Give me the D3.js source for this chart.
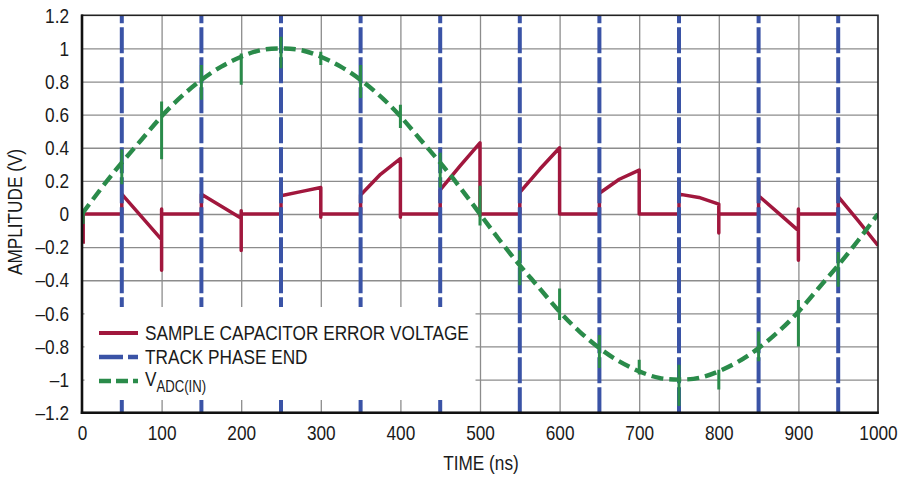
<!DOCTYPE html>
<html><head><meta charset="utf-8">
<script src="https://cdn.jsdelivr.net/npm/d3@7"></script>
<style>
html,body{margin:0;padding:0;background:#fff;}
svg{display:block;}
text{font-family:"Liberation Sans Narrow","Arial Narrow","Liberation Sans",Arial,sans-serif;fill:#1a1a1a;}
</style></head>
<body>
<svg id="chart" width="900" height="481"></svg>
<script>
// ---- data ----
const xTicks = [0,100,200,300,400,500,600,700,800,900,1000];
const yTicks = [1.2,1,0.8,0.6,0.4,0.2,0,-0.2,-0.4,-0.6,-0.8,-1,-1.2];
const yTickLabels = ["1.2","1","0.8","0.6","0.4","0.2","0","\u20130.2","\u20130.4","\u20130.6","\u20130.8","\u20131","\u20131.2"];

// track phase end markers (ns)
const trackPhaseEnd = [50,150,250,350,450,550,650,750,850,950];

// sample capacitor error voltage (ns, V)
const errTime  = [1.5,1.5,50,50,100,100,100,100,150,150,200,200,200,200,250,250,275,300,300,300,350,350,375,400,400,400,450,450,475,500,500,500,550,550,550,575,600,600,650,650,650,675,700,700,750,750,750,775,800,800,800,850,850,850,875,900,900,900,900,950,950,950,975,1000];
const errValue = [-0.18,0,0,0.12,-0.155,-0.34,0.03,0,0,0.12,-0.025,-0.22,0.02,0,0,0.11,0.135,0.16,-0.02,0,0,0.115,0.24,0.335,-0.02,0,0,0.145,0.29,0.43,-0.01,0,0,0.2,0.13,0.27,0.40,0,0,0.2,0.125,0.21,0.265,0,0,0.19,0.12,0.10,0.06,-0.115,0,0,0.19,0.11,0.005,-0.1,-0.28,0.03,0,0,0.18,0.105,-0.04,-0.19];

// V_ADC(IN) (ns, V)
const vinTime  = [0,25,50,75,100,125,150,175,200,225,250,275,300,325,350,375,400,425,450,475,500,525,550,575,600,625,650,675,700,725,750,775,800,825,850,875,900,925,950,975,1000];
const vinValue = [0,0.16,0.31,0.45,0.59,0.71,0.81,0.89,0.95,0.99,1.00,0.99,0.95,0.89,0.81,0.71,0.59,0.45,0.31,0.16,0,-0.16,-0.31,-0.45,-0.59,-0.71,-0.81,-0.89,-0.95,-0.99,-1.00,-0.99,-0.95,-0.89,-0.81,-0.71,-0.59,-0.45,-0.31,-0.16,0];

// V_ADC(IN) glitches at each switching instant (ns, low V, high V)
const glitchTime = [1.5,50,100,150,200,250,300,350,400,450,500,550,600,650,700,750,800,850,900,950];
const glitchLow  = [-0.06,0.18,0.33,0.69,0.78,0.88,0.90,0.70,0.52,0.16,-0.07,-0.43,-0.64,-0.93,-0.97,-1.16,-1.06,-0.89,-0.80,-0.44];
const glitchHigh = [0.03,0.39,0.68,0.90,0.97,1.07,0.98,0.90,0.66,0.37,0.17,-0.22,-0.45,-0.73,-0.88,-0.91,-0.94,-0.71,-0.52,-0.23];

const legendLabels = ["SAMPLE CAPACITOR ERROR VOLTAGE","TRACK PHASE END","V"];

// ---- layout ----
const M = {left:82, right:878, top:15.3, bottom:412.7};
const RED="#a1173d", BLUE="#3a53a6", GREEN="#2a8b4a";
const K = 0.82; // condensed face emulation

function narrow(sel){
  sel.each(function(){
    const t=d3.select(this);
    const x=+t.attr("x")||0, y=+t.attr("y")||0;
    t.attr("transform",`translate(${x},${y}) scale(${K},1) translate(${-x},${-y})`);
  });
}

const svg = d3.select("#chart");
const x = d3.scaleLinear().domain([0,1000]).range([M.left,M.right]);
const y = d3.scaleLinear().domain([-1.2,1.2]).range([M.bottom,M.top]);
const H = M.bottom-M.top, W = M.right-M.left;

// gridlines
svg.append("g").attr("transform",`translate(0,${M.bottom})`)
  .call(d3.axisBottom(x).tickValues(xTicks.slice(1,-1)).tickSize(-H).tickFormat(""))
  .call(g=>{g.select(".domain").remove();g.selectAll("line").attr("stroke","#8c8c8c").attr("stroke-width",1.3);});
svg.append("g").attr("transform",`translate(${M.left},0)`)
  .call(d3.axisLeft(y).tickValues(yTicks.slice(1,-1)).tickSize(-W).tickFormat(""))
  .call(g=>{g.select(".domain").remove();g.selectAll("line").attr("stroke","#8c8c8c").attr("stroke-width",1.3);});

svg.append("clipPath").attr("id","plot").append("rect")
  .attr("x",M.left).attr("y",M.top).attr("width",W).attr("height",H);

// error voltage
const errPts = errTime.map((t,i)=>[t,errValue[i]]);
svg.append("path").attr("clip-path","url(#plot)")
  .attr("d", d3.line().x(d=>x(d[0])).y(d=>y(d[1]))(errPts))
  .attr("fill","none").attr("stroke",RED).attr("stroke-width",3.5).attr("stroke-linejoin","round");

// track phase end
svg.append("g").selectAll("line").data(trackPhaseEnd).join("line")
  .attr("x1",d=>x(d)).attr("x2",d=>x(d)).attr("y1",y(1.2)).attr("y2",y(-1.2))
  .attr("stroke",BLUE).attr("stroke-width",4).attr("stroke-dasharray","26,4").attr("stroke-dashoffset",18);

// V_ADC(IN)
const vinPts = vinTime.map((t,i)=>[t,vinValue[i]]);
svg.append("path").attr("clip-path","url(#plot)")
  .attr("d", d3.line().x(d=>x(d[0])).y(d=>y(d[1])).curve(d3.curveNatural)(vinPts))
  .attr("fill","none").attr("stroke",GREEN).attr("stroke-width",4.4).attr("stroke-dasharray","12,6");
svg.append("g").attr("clip-path","url(#plot)").selectAll("line").data(glitchTime).join("line")
  .attr("x1",d=>x(d)).attr("x2",d=>x(d))
  .attr("y1",(d,i)=>y(glitchLow[i])).attr("y2",(d,i)=>y(glitchHigh[i]))
  .attr("stroke",GREEN).attr("stroke-width",3);

// legend
const lg = svg.append("g");
lg.append("rect").attr("x",84.5).attr("y",307).attr("width",391).attr("height",93).attr("fill","#fff");
const legY = [333,357,381];
lg.append("line").attr("x1",99).attr("x2",138).attr("y1",legY[0]).attr("y2",legY[0]).attr("stroke",RED).attr("stroke-width",4);
lg.append("line").attr("x1",99).attr("x2",138).attr("y1",legY[1]).attr("y2",legY[1]).attr("stroke",BLUE).attr("stroke-width",4.5).attr("stroke-dasharray","24,5");
lg.append("line").attr("x1",99).attr("x2",138).attr("y1",legY[2]).attr("y2",legY[2]).attr("stroke",GREEN).attr("stroke-width",4.5).attr("stroke-dasharray","12,5");
lg.append("text").attr("x",145).attr("y",legY[0]+7.5).attr("font-size",21).text(legendLabels[0]).call(narrow);
lg.append("text").attr("x",145).attr("y",legY[1]+7.5).attr("font-size",21).text(legendLabels[1]).call(narrow);
const vt = lg.append("text").attr("x",145).attr("y",legY[2]+5).attr("font-size",21);
vt.append("tspan").text(legendLabels[2]);
vt.append("tspan").attr("font-size",16).attr("dy",6).text("ADC(IN)");
vt.call(narrow);

// frame
svg.append("rect").attr("x",M.left).attr("y",M.top).attr("width",W).attr("height",H)
  .attr("fill","none").attr("stroke","#222").attr("stroke-width",1.6);
svg.append("line").attr("x1",M.left).attr("x2",M.left).attr("y1",M.top-0.8).attr("y2",M.bottom+1.2).attr("stroke","#111").attr("stroke-width",2.6);
svg.append("line").attr("x1",M.left-1.2).attr("x2",M.right+0.8).attr("y1",M.bottom).attr("y2",M.bottom).attr("stroke","#111").attr("stroke-width",2.6);

// tick labels
svg.append("g").attr("transform",`translate(0,${M.bottom})`)
  .call(d3.axisBottom(x).tickValues(xTicks).tickSize(0).tickPadding(12).tickFormat(d3.format("d")))
  .call(g=>{g.select(".domain").remove();g.selectAll("text").attr("font-size",21).attr("font-family",null).attr("fill","#1a1a1a").call(narrow);});
svg.append("g").attr("transform",`translate(${M.left},0)`)
  .call(d3.axisLeft(y).tickValues(yTicks).tickSize(0).tickPadding(13).tickFormat((d,i)=>yTickLabels[i]))
  .call(g=>{g.select(".domain").remove();g.selectAll("text").attr("font-size",21).attr("font-family",null).attr("fill","#1a1a1a").call(narrow);});

// axis titles
svg.append("text").attr("x",481).attr("y",470).attr("text-anchor","middle").attr("font-size",21).text("TIME (ns)").call(narrow);
svg.append("text").attr("transform",`translate(22,212) rotate(-90) scale(${K},1)`).attr("text-anchor","middle").attr("font-size",21).text("AMPLITUDE (V)");
</script>
</body></html>
